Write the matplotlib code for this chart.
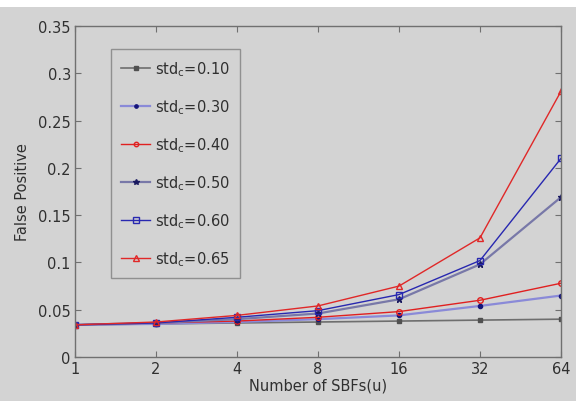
import matplotlib
matplotlib.use("Agg")
import matplotlib.pyplot as plt
from matplotlib.patches import Rectangle

# number of SBFs on the x axis
sbfs = [1, 2, 4, 8, 16, 32, 64]

# false positive rate per std_c setting
fp_010 = [0.034, 0.035, 0.036, 0.037, 0.038, 0.039, 0.040]
fp_030 = [0.034, 0.035, 0.037, 0.040, 0.044, 0.054, 0.065]
fp_040 = [0.034, 0.036, 0.038, 0.042, 0.048, 0.060, 0.078]
fp_050 = [0.034, 0.036, 0.040, 0.046, 0.061, 0.098, 0.169]
fp_060 = [0.034, 0.036, 0.042, 0.049, 0.066, 0.102, 0.210]
fp_065 = [0.034, 0.037, 0.044, 0.054, 0.075, 0.126, 0.281]

labels = ["0.10", "0.30", "0.40", "0.50", "0.60", "0.65"]
yticks = [0, 0.05, 0.1, 0.15, 0.2, 0.25, 0.3, 0.35]
ytick_labels = ["0", "0.05", "0.1", "0.15", "0.2", "0.25", "0.3", "0.35"]

bg = "#d3d3d3"
plt.rcParams["font.family"] = "DejaVu Sans"
plt.rcParams["font.size"] = 10.5

fig = plt.figure(figsize=(5.76, 4.02), dpi=100, facecolor=bg)
fig.patches.append(Rectangle((0, 1 - 8 / 402), 1, 8 / 402, transform=fig.transFigure,
                             facecolor="white", edgecolor="none", zorder=0))
ax = fig.add_axes([75 / 576, 44 / 402, 486 / 576, 331 / 402], facecolor=bg)

# line color, marker, marker face, marker edge, line width, marker size
styles = [
    ("#6e6e6e", "s", "#505050", "#505050", 1.2, 3.5),
    ("#8a8ad8", ".", "#15157a", "#15157a", 1.6, 6),
    ("#e02020", "o", "none", "#e02020", 1.0, 4),
    ("#7878a8", "*", "#1a1a60", "#1a1a60", 1.6, 5),
    ("#2828b0", "s", "none", "#2828b0", 1.0, 5),
    ("#e02828", "^", "none", "#e02828", 1.0, 5),
]
series = [fp_010, fp_030, fp_040, fp_050, fp_060, fp_065]

for vals, lab, st in zip(series, labels, styles):
    col, mk, mfc, mec, lw, ms = st
    ax.plot(sbfs, vals, color=col, marker=mk, markerfacecolor=mfc,
            markeredgecolor=mec, lw=lw, ms=ms, mew=1.0,
            label=r"std$_\mathrm{c}$=" + lab)

ax.set_xscale("log", base=2)
ax.set_xlim(1, 64)
ax.set_xticks(sbfs)
ax.set_xticklabels([str(s) for s in sbfs])
ax.minorticks_off()
ax.set_ylim(0, 0.35)
ax.set_yticks(yticks)
ax.set_yticklabels(ytick_labels)

for sp in ax.spines.values():
    sp.set_color("#707070")
    sp.set_linewidth(1.0)
ax.tick_params(direction="in", length=4, color="#707070", top=True, right=True,
               labelcolor="#303030", pad=3)

ax.set_xlabel("Number of SBFs(u)", color="#303030", labelpad=1)
ax.set_ylabel("False Positive", color="#303030", labelpad=6)

leg = ax.legend(loc="upper left", bbox_to_anchor=(36 / 486, 1 - 23 / 331),
                frameon=True, fancybox=False, facecolor=bg, edgecolor="#808080",
                handlelength=2.0, handletextpad=0.35, labelspacing=1.32,
                borderpad=0.7, borderaxespad=0, markerscale=0.8)
leg.get_frame().set_linewidth(1.0)
for t in leg.get_texts():
    t.set_color("#303030")

fig.savefig("out.png", dpi=100, facecolor=bg)
